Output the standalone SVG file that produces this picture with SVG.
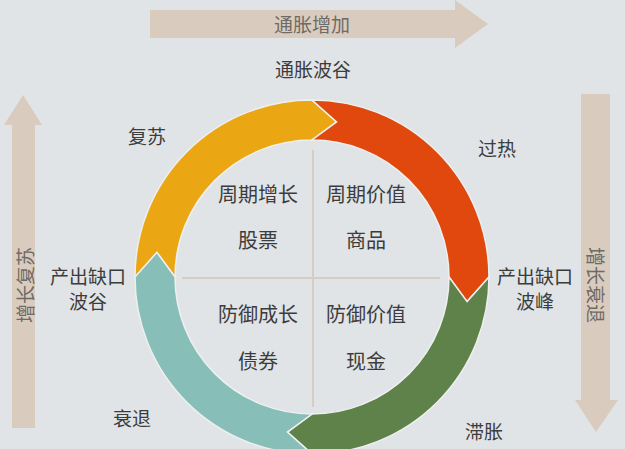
<svg xmlns="http://www.w3.org/2000/svg" width="625" height="449" viewBox="0 0 625 449">
<style>
text{font-family:"Noto Sans CJK SC","Liberation Sans",sans-serif;fill:#3c3c3c;text-anchor:middle;dominant-baseline:central}
.q{font-size:20px}
.o{font-size:19px}
.a{font-size:19px;fill:#6e6a66}
.band{fill:#d9ccbe}
.seg{stroke:#eef0f0;stroke-width:1.5}
</style>
<rect width="625" height="449" fill="#e0e4e7"/>
<g id="arrows">
<g id="top-arrow"><path class="band" d="M150 10H455V0L488 24L455 48V38H150Z"/><text class="a" x="312" y="23">通胀增加</text></g>
<g id="left-arrow"><path class="band" d="M12 428V125H4L23 95L42 125H35V428Z"/><text class="a" transform="translate(24,285) rotate(-90)">增长复苏</text></g>
<g id="right-arrow"><path class="band" d="M581 94H610V400H618L596 432L575 400H581Z"/><text class="a" transform="translate(596,285) rotate(90)">增长衰退</text></g>
</g>
<g id="ring">
<path id="yellow" class="seg" fill="#eba713" d="M135 277A177 177 0 0 1 312 100L336.6 121.9L312 140A137 137 0 0 0 175 277L156.9 252.4Z"/>
<path id="orange" class="seg" fill="#e0480e" d="M312 100A177 177 0 0 1 489 277L467.1 301.6L449 277A137 137 0 0 0 312 140L336.6 121.9Z"/>
<path id="green" class="seg" fill="#5e8249" d="M489 277A177 177 0 0 1 312 454L287.4 432.1L312 414A137 137 0 0 0 449 277L467.1 301.6Z"/>
<path id="teal" class="seg" fill="#87beb8" d="M312 454A177 177 0 0 1 135 277L156.9 252.4L175 277A137 137 0 0 0 312 414L287.4 432.1Z"/>
</g>
<g id="connectors" stroke="#d8cdc2" stroke-width="2">
<line x1="313" y1="150" x2="313" y2="407"/>
<line x1="182" y1="278" x2="440" y2="278"/>
</g>
<g id="q1"><text class="q" x="258" y="193">周期增长</text><text class="q" x="258" y="239">股票</text></g>
<g id="q2"><text class="q" x="366" y="193">周期价值</text><text class="q" x="366" y="239">商品</text></g>
<g id="q3"><text class="q" x="258" y="313">防御成长</text><text class="q" x="258" y="360">债券</text></g>
<g id="q4"><text class="q" x="366" y="313">防御价值</text><text class="q" x="366" y="360">现金</text></g>
<g id="labels">
<text class="o" x="313" y="68">通胀波谷</text>
<text class="o" x="147" y="135">复苏</text>
<text class="o" x="497" y="147">过热</text>
<text class="o" x="88" y="275">产出缺口</text>
<text class="o" x="88" y="300">波谷</text>
<text class="o" x="535" y="275">产出缺口</text>
<text class="o" x="535" y="300">波峰</text>
<text class="o" x="132" y="417">衰退</text>
<text class="o" x="484" y="430">滞胀</text>
</g>
</svg>
